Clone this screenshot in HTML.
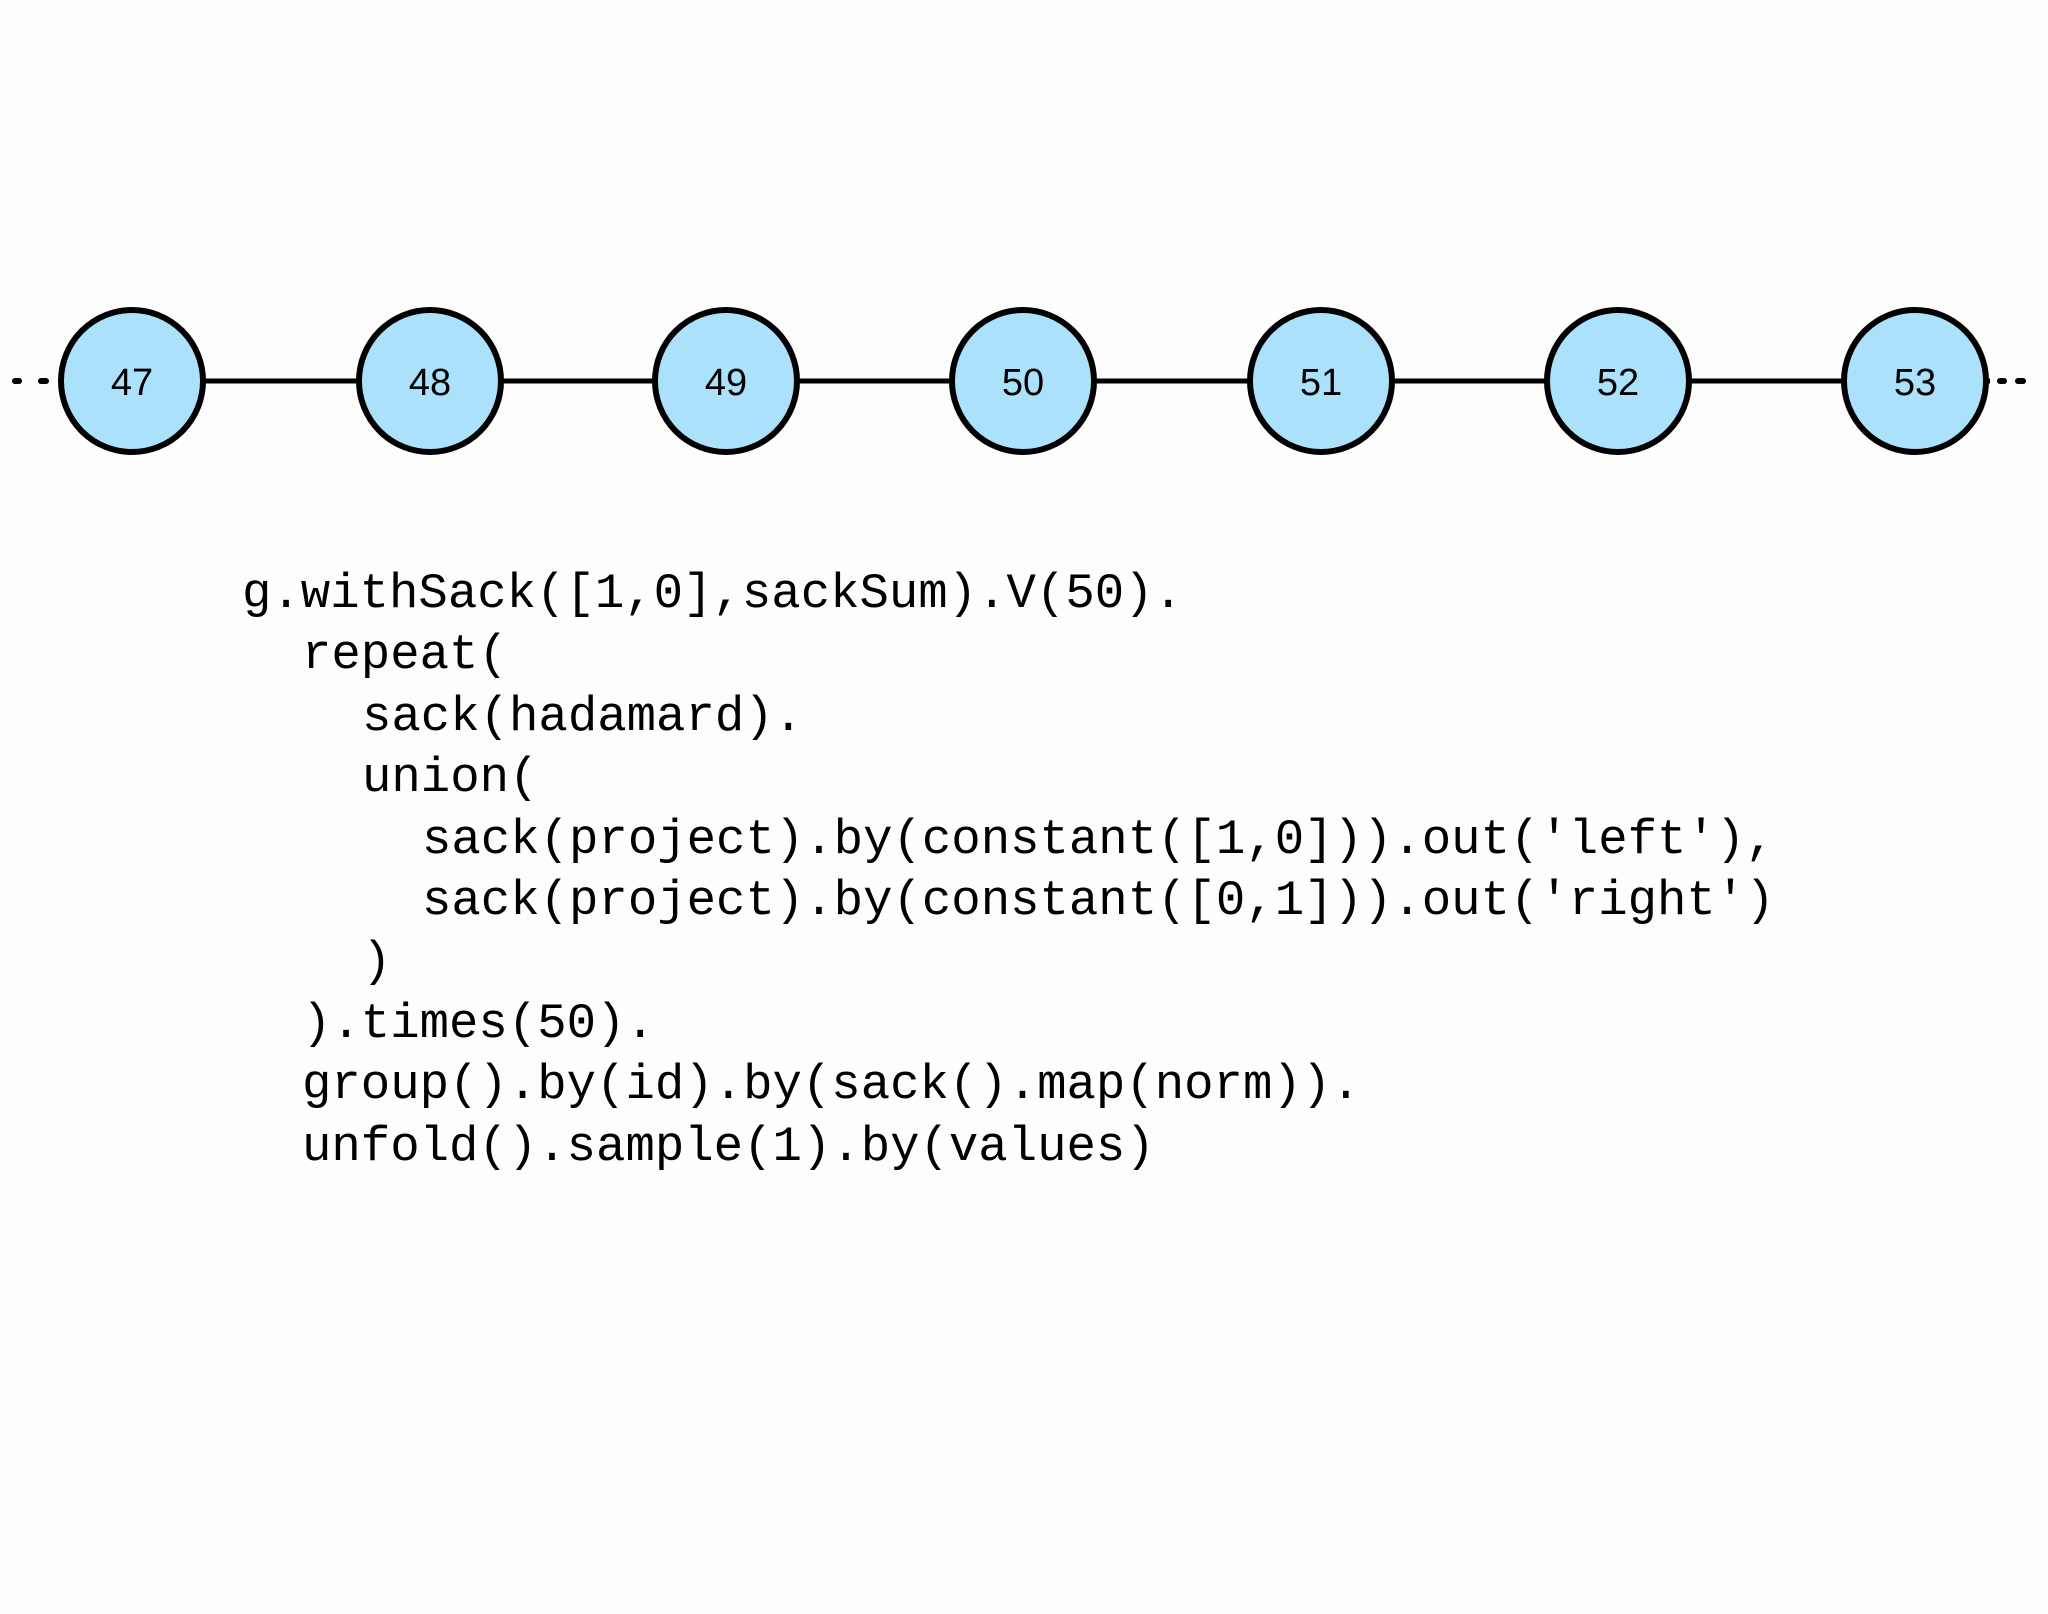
<!DOCTYPE html>
<html><head><meta charset="utf-8">
<style>
html,body{margin:0;padding:0;background:#fdfdfd;}
body{width:2048px;height:1609px;overflow:hidden;}
</style></head>
<body>
<svg width="2048" height="1609" xmlns="http://www.w3.org/2000/svg">
<rect width="2048" height="1609" fill="#fdfdfd"/>
<g stroke="#000" stroke-linecap="round">
<line x1="15" y1="381" x2="19" y2="381" stroke-width="6"/>
<line x1="41" y1="381" x2="46" y2="381" stroke-width="6"/>
<line x1="2000" y1="381" x2="2004" y2="381" stroke-width="6"/>
<line x1="2018" y1="381" x2="2023" y2="381" stroke-width="6"/>
<line x1="132" y1="381" x2="1990" y2="381" stroke-width="5" stroke-linecap="butt"/>
</g>
<g fill="#ace1fc" stroke="#000" stroke-width="6">
<circle cx="132" cy="381" r="71"/>
<circle cx="430" cy="381" r="71"/>
<circle cx="726" cy="381" r="71"/>
<circle cx="1023" cy="381" r="71"/>
<circle cx="1321" cy="381" r="71"/>
<circle cx="1618" cy="381" r="71"/>
<circle cx="1915" cy="381" r="71"/>
</g>
<g font-family="Liberation Sans, sans-serif" font-size="38" text-anchor="middle" fill="#000">
<text x="132" y="395">47</text>
<text x="430" y="395">48</text>
<text x="726" y="395">49</text>
<text x="1023" y="395">50</text>
<text x="1321" y="395">51</text>
<text x="1618" y="395">52</text>
<text x="1915" y="395">53</text>
</g>
<g font-family="Liberation Mono, monospace" font-size="49" fill="#000">
<text x="242" y="607">g.withSack([1,0],sackSum).V(50).</text>
<text x="302" y="668">repeat(</text>
<text x="362" y="730">sack(hadamard).</text>
<text x="362" y="791">union(</text>
<text x="422" y="853">sack(project).by(constant([1,0])).out('left'),</text>
<text x="422" y="914">sack(project).by(constant([0,1])).out('right')</text>
<text x="362" y="975">)</text>
<text x="302" y="1037">).times(50).</text>
<text x="302" y="1098">group().by(id).by(sack().map(norm)).</text>
<text x="302" y="1160">unfold().sample(1).by(values)</text>
</g>
</svg>
</body></html>
